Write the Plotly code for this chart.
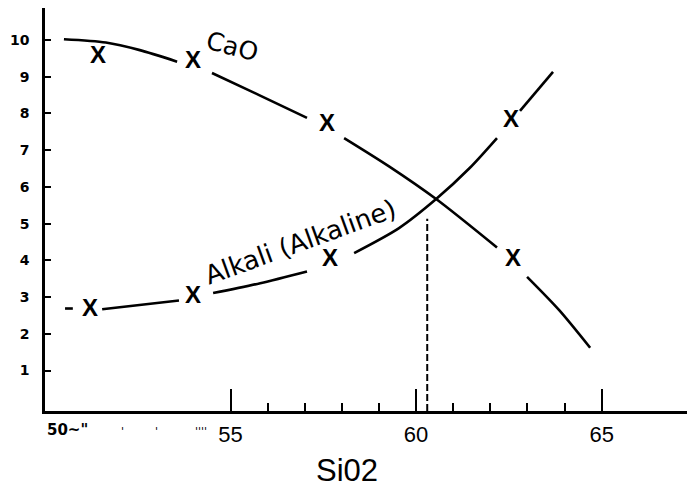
import plotly.graph_objects as go

# ---- data ----
cao_x = [50.51, 51.64, 52.53, 53.56, None, 54.50, 55.77, 57.06, None,
         58.06, 59.27, 60.54, 62.18, None, 62.99, 63.85, 64.69]
cao_y = [10.02, 9.93, 9.73, 9.41, None, 9.10, 8.50, 7.88, None,
         7.33, 6.56, 5.67, 4.35, None, 3.55, 2.65, 1.62]
cao_mark_x = [51.43, 53.99, 57.60, 62.61]
cao_mark_y = [9.54, 9.40, 7.69, 4.01]

alk_x = [50.54, 50.75, None, 51.54, 53.61, None, 54.53, 55.80, 57.06, None,
         58.33, 59.54, 60.54, 61.43, 62.18, None, 62.80, 63.69]
alk_y = [2.69, 2.69, None, 2.67, 2.91, None, 3.11, 3.38, 3.70, None,
         4.20, 4.88, 5.67, 6.50, 7.33, None, 8.07, 9.13]
alk_mark_x = [51.21, 53.99, 57.68, 62.56]
alk_mark_y = [2.65, 3.01, 4.01, 7.79]

dash_x = [60.3, 60.3]
dash_y = [-0.1, 5.13]

y_ticks = [1, 2, 3, 4, 5, 6, 7, 8, 9, 10]
x_major = [55, 60, 65]
x_minor = [56, 57, 58, 59, 61, 62, 63, 64]
x_title = "Si02"

fig = go.Figure()
line = dict(color="black", width=2.6, shape="spline", smoothing=0.8)
fig.add_trace(go.Scatter(x=cao_x, y=cao_y, mode="lines", line=line,
                         connectgaps=False, showlegend=False, hoverinfo="skip"))
fig.add_trace(go.Scatter(x=alk_x, y=alk_y, mode="lines", line=line,
                         connectgaps=False, showlegend=False, hoverinfo="skip"))
xfont = dict(family="Liberation Sans Narrow, Liberation Sans", size=24,
             color="black", weight="bold")
fig.add_trace(go.Scatter(x=cao_mark_x, y=cao_mark_y, mode="text", text=["X"] * 4,
                         textfont=xfont, textposition="middle center",
                         showlegend=False, hoverinfo="skip"))
fig.add_trace(go.Scatter(x=alk_mark_x, y=alk_mark_y, mode="text", text=["X"] * 4,
                         textfont=xfont, textposition="middle center",
                         showlegend=False, hoverinfo="skip"))
fig.add_trace(go.Scatter(x=dash_x, y=dash_y, mode="lines",
                         line=dict(color="black", width=2, dash="7px,3px"),
                         showlegend=False, hoverinfo="skip"))

annots = [
    dict(x=55.05, y=9.82, text="CaO", textangle=15,
         font=dict(family="DejaVu Sans", size=25, color="black")),
    dict(x=56.88, y=4.50, text="Alkali (Alkaline)", textangle=-20,
         font=dict(family="DejaVu Sans", size=26, color="black")),
    dict(x=50.0, y=-0.047, yref="paper", text="50~\"", xanchor="left", yanchor="middle",
         font=dict(family="DejaVu Sans", size=15, color="black", weight="bold")),
    dict(x=52.1, y=-0.072, yref="paper", text="'", yanchor="bottom",
         font=dict(family="DejaVu Sans", size=11, color="black")),
    dict(x=53.0, y=-0.072, yref="paper", text="'", yanchor="bottom",
         font=dict(family="DejaVu Sans", size=11, color="black")),
    dict(x=54.2, y=-0.072, yref="paper", text="''''", yanchor="bottom",
         font=dict(family="DejaVu Sans", size=11, color="black")),
    dict(x=0.47, y=-0.197, xref="paper", yref="paper", text=x_title,
         xanchor="center", yanchor="bottom",
         font=dict(family="Liberation Sans", size=31, color="black")),
]
for a in annots:
    a.setdefault("xref", "x")
    a.setdefault("yref", "y")
    a.update(showarrow=False)
fig.update_layout(annotations=annots)

# page body has an 8px default margin, so the figure is drawn 8px smaller
fig.update_layout(
    width=687, height=481,
    margin=dict(l=37, r=8, t=0, b=78),
    paper_bgcolor="white", plot_bgcolor="white",
    xaxis=dict(range=[50, 67.30], showgrid=False, zeroline=False,
               showline=True, linecolor="black", linewidth=2.5,
               tickmode="array", tickvals=x_major, ticktext=[str(v) for v in x_major],
               ticks="inside", ticklen=22, tickwidth=2, tickcolor="black",
               ticklabelstandoff=2,
               tickfont=dict(family="Liberation Sans", size=22, color="black"),
               minor=dict(tickmode="array", tickvals=x_minor, ticks="inside",
                          ticklen=8, tickwidth=2, tickcolor="black", showgrid=False)),
    yaxis=dict(range=[-0.1, 10.87], showgrid=False, zeroline=False,
               showline=True, linecolor="black", linewidth=2.5,
               tickmode="array", tickvals=y_ticks + [10.85],
               ticktext=[str(v) for v in y_ticks] + [""],
               ticks="inside", ticklen=6, tickwidth=2, tickcolor="black",
               ticklabelstandoff=10,
               tickfont=dict(family="DejaVu Sans", size=14, color="black", weight="bold")),
)

fig.write_html("out.html")
